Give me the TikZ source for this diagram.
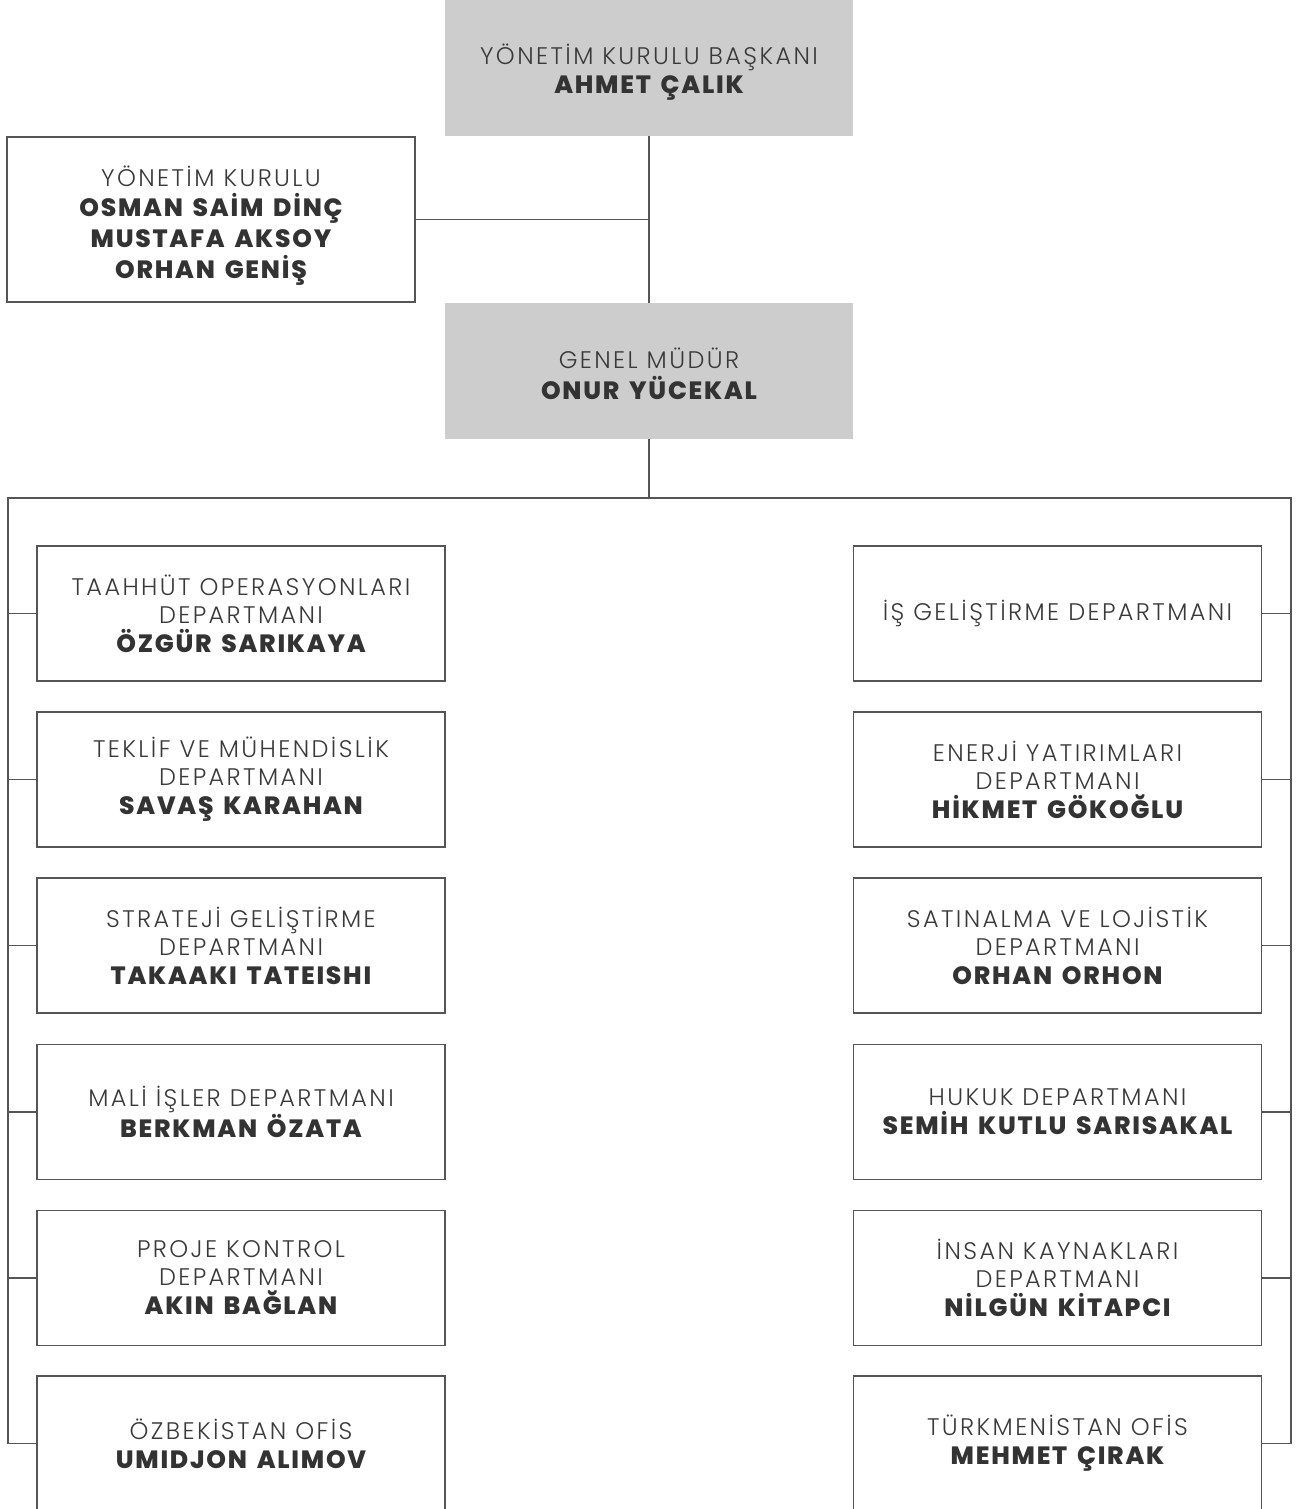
\documentclass[tikz,border=0pt]{standalone}
\usepackage{fontspec}
\setmainfont{Poppins}
\newfontfamily\ltf{Poppins}[UprightFont=* Light,LetterSpace=10,Scale=1.02]
\newfontfamily\bkf{Poppins}[UprightFont=* ExtraBold,LetterSpace=7,WordSpace=1.5,Scale=1.064]
\definecolor{boxgray}{HTML}{CDCDCD}
\definecolor{linegray}{HTML}{555555}
\definecolor{txtlight}{HTML}{3A3A3A}
\definecolor{txtbold}{HTML}{333333}
\newcommand{\tl}[1]{{\ltf\color{txtlight}#1}}
\newcommand{\nm}[1]{{\bkf\color{txtbold}#1}}
\begin{document}
\begin{tikzpicture}[x=1pt,y=-1pt,
  base/.style={align=center,inner sep=0pt,minimum width=408pt,minimum height=135pt,
    font=\fontsize{23.5}{29}\selectfont},
  gbox/.style={base,fill=boxgray},
  wbox/.style={base,draw=linegray,line width=1.1pt,fill=white},
  conn/.style={draw=linegray,line width=1.1pt}]
\useasboundingbox (0,0) rectangle (1295,1509);
\fill[white] (0,0) rectangle (1295,1509);
% top levels
\node[gbox,minimum height=136pt] (chair) at (649,68) {\rule{0pt}{28pt}\tl{YÖNETİM KURULU BAŞKANI}\\\nm{AHMET ÇALIK}};
\node[wbox,minimum height=165pt] (board) at (211,219.5) {\rule{0pt}{32pt}\tl{YÖNETİM KURULU}\\[1pt]\nm{OSMAN SAİM DİNÇ}\\[2pt]\nm{MUSTAFA AKSOY}\\[2pt]\nm{ORHAN GENİŞ}};
\node[gbox,minimum height=136pt] (gm) at (649,371) {\rule{0pt}{26pt}\tl{GENEL MÜDÜR}\\[2pt]\nm{ONUR YÜCEKAL}};
% left departments
\node[wbox] (L1) at (241,613.5) {\tl{TAAHHÜT OPERASYONLARI}\\[-1pt]\tl{DEPARTMANI}\\\nm{ÖZGÜR SARIKAYA}};
\node[wbox] (L2) at (241,779.5) {\tl{TEKLİF VE MÜHENDİSLİK}\\[-1pt]\tl{DEPARTMANI}\\\nm{SAVAŞ KARAHAN}};
\node[wbox] (L3) at (241,945.5) {\tl{STRATEJİ GELİŞTİRME}\\[-1pt]\tl{DEPARTMANI}\\\nm{TAKAAKI TATEISHI}};
\node[wbox] (L4) at (241,1112) {\tl{MALİ İŞLER DEPARTMANI}\\\nm{BERKMAN ÖZATA}};
\node[wbox] (L5) at (241,1278) {\tl{PROJE KONTROL}\\[-1pt]\tl{DEPARTMANI}\\\nm{AKIN BAĞLAN}};
\node[wbox] (L6) at (241,1443.5) {\tl{ÖZBEKİSTAN OFİS}\\\nm{UMIDJON ALIMOV}};
% right departments
\node[wbox] (R1) at (1057.5,613.5) {\tl{İŞ GELİŞTİRME DEPARTMANI}};
\node[wbox] (R2) at (1057.5,779.5) {\tl{ENERJİ YATIRIMLARI}\\[-1pt]\tl{DEPARTMANI}\\\nm{HİKMET GÖKOĞLU}};
\node[wbox] (R3) at (1057.5,945.5) {\tl{SATINALMA VE LOJİSTİK}\\[-1pt]\tl{DEPARTMANI}\\\nm{ORHAN ORHON}};
\node[wbox] (R4) at (1057.5,1112) {\tl{HUKUK DEPARTMANI}\\\nm{SEMİH KUTLU SARISAKAL}};
\node[wbox] (R5) at (1057.5,1278) {\tl{İNSAN KAYNAKLARI}\\[-1pt]\tl{DEPARTMANI}\\\nm{NİLGÜN KİTAPCI}};
\node[wbox] (R6) at (1057.5,1443.5) {\tl{TÜRKMENİSTAN OFİS}\\\nm{MEHMET ÇIRAK}};
% connectors
\coordinate (bl) at (8,498);
\coordinate (br) at (1291,498);
\draw[conn] (chair.south) -- (gm.north);
\draw[conn] (board.east) -- (board.east -| chair.south);
\draw[conn] (gm.south) -- (gm.south |- bl);
\draw[conn] (L6.west) -| (bl) -- (br) |- (R6.east);
\foreach \i in {1,...,5}{
  \draw[conn] (L\i.west) -- (L\i.west -| bl);
  \draw[conn] (R\i.east) -- (R\i.east -| br);
}
\end{tikzpicture}
\end{document}
